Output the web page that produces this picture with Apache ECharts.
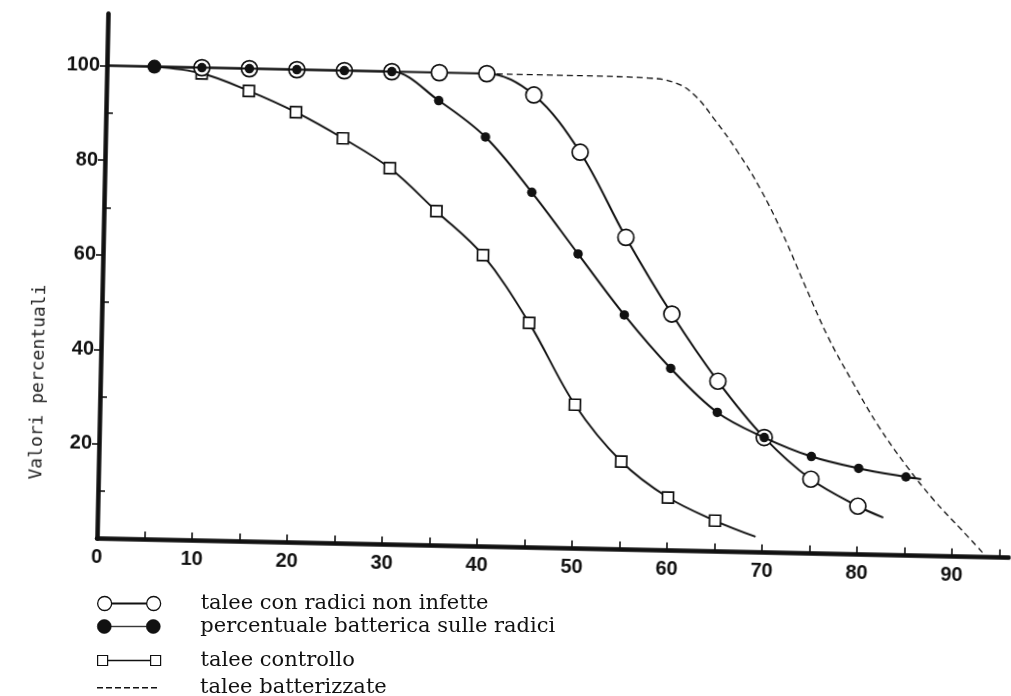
<!DOCTYPE html>
<html>
<head>
<meta charset="utf-8">
<script src="https://cdn.jsdelivr.net/npm/echarts@6/dist/echarts.min.js"></script>
<style>
  html, body { margin: 0; padding: 0; background: #fff; }
  #wrap { position: relative; width: 1011px; height: 696px; overflow: hidden; background: #fff; }
  #main { position: absolute; left: 0; top: 0; width: 1011px; height: 696px;
          transform: rotate(1.2deg); transform-origin: 97px 538.5px; }
  #legend { position: absolute; left: 0; top: 0; width: 1011px; height: 696px; pointer-events: none; }
</style>
</head>
<body>
<div id="wrap">
  <div id="main"></div>
  <div id="legend"></div>
</div>
<script>
// ---- data ----
const seriesNames = [
  'talee con radici non infette',
  'percentuale batterica sulle radici',
  'talee controllo',
  'talee batterizzate'
];
const openX   = [0, 10, 15, 20, 25, 30, 35, 40, 45, 50, 55, 60, 65, 70, 75, 80, 82.7];
const openY   = [100, 100, 100, 100, 100, 100, 100, 100, 95.7, 83.8, 66.0, 50.0, 36.0, 24.3, 15.7, 10.2, 7.9];
const filledX = [0, 5, 10, 15, 20, 25, 30, 35, 40, 45, 50, 55, 60, 65, 70, 75, 80, 85, 86.6];
const filledY = [100, 100, 100, 100, 100, 100, 100, 94.1, 86.6, 75.1, 62.3, 49.6, 38.5, 29.4, 24.3, 20.5, 18.2, 16.6, 16.2];
const squareX = [5, 10, 15, 20, 25, 30, 35, 40, 45, 50, 55, 60, 65, 69.3];
const squareY = [100, 98.8, 95.3, 91.0, 85.7, 79.6, 70.7, 61.6, 47.5, 30.4, 18.6, 11.2, 6.5, 3.3];
const dashedX = [40, 50, 57, 60, 62, 64, 66.5, 69, 71.5, 74, 76.5, 79, 82, 85, 88, 91, 93.3];
const dashedY = [100, 100, 99.8, 98.8, 96.2, 91.5, 84.8, 77, 67.4, 56.4, 45.8, 37, 27.2, 19, 11.8, 5.6, 0.8];
const xTicks = [0, 5, 10, 15, 20, 25, 30, 35, 40, 45, 50, 55, 60, 65, 70, 75, 80, 85, 90, 95];
const xLabels = [0, 10, 20, 30, 40, 50, 60, 70, 80, 90];
const yMajorTicks = [20, 40, 60, 80, 100];
const yMinorTicks = [10, 30, 50, 70, 90];
const yAxisTitle = 'Valori percentuali';

// ---- helpers ----
// first and last points of the marked curves are plain line ends (no marker)
function build(xs, ys, bigFirstMarker) {
  return xs.map((x, i) => {
    const item = { value: [x, ys[i]] };
    if (i === 0 || i === xs.length - 1) item.symbol = 'none';
    if (bigFirstMarker && i === 1) item.symbolSize = 14;
    return item;
  });
}
function pairs(xs, ys) { return xs.map((x, i) => [x, ys[i]]); }

const INK = '#111';
const labelFont = { fontFamily: '"Liberation Sans", Arial, sans-serif', fontWeight: 'bold', fontSize: 20, color: INK };

const main = echarts.init(document.getElementById('main'), null, { renderer: 'canvas' });
main.setOption({
  animation: false,
  grid: { left: 97, right: 2, top: 13.6, bottom: 157.5, containLabel: false },
  xAxis: {
    type: 'value', min: 0, max: 96, interval: 5,
    axisLine: { lineStyle: { color: INK, width: 4.5 } },
    axisTick: { inside: true, length: 8, customValues: xTicks, lineStyle: { color: INK, width: 1.6 } },
    axisLabel: Object.assign({ margin: 9, customValues: xLabels,
      formatter: v => (xLabels.indexOf(v) >= 0 ? String(v) : '') }, labelFont),
    splitLine: { show: false }
  },
  yAxis: [
    {
      type: 'value', min: 0, max: 111, interval: 20,
      axisLine: { show: true, lineStyle: { color: INK, width: 4.5 } },
      axisTick: { inside: false, length: 7, customValues: yMajorTicks, lineStyle: { color: INK, width: 1.6 } },
      axisLabel: Object.assign({ margin: 7, customValues: yMajorTicks,
        formatter: v => (yMajorTicks.indexOf(v) >= 0 ? String(v) : '') }, labelFont),
      splitLine: { show: false }
    },
    {
      type: 'value', min: 0, max: 111, interval: 10, position: 'left',
      axisLine: { show: false },
      axisTick: { show: true, inside: true, length: 7, customValues: yMinorTicks, lineStyle: { color: INK, width: 1.6 } },
      axisLabel: { show: false },
      splitLine: { show: false }
    }
  ],
  graphic: [{
    type: 'text', x: 35, y: 383.3, rotation: Math.PI / 2,
    style: {
      text: yAxisTitle, fill: '#222',
      font: '18px "DejaVu Sans Mono", monospace',
      fontSize: 18, fontFamily: '"DejaVu Sans Mono", monospace',
      align: 'center', verticalAlign: 'middle',
      textAlign: 'center', textVerticalAlign: 'middle'
    }
  }],
  series: [
    {
      name: seriesNames[3], type: 'line', data: pairs(dashedX, dashedY),
      smooth: 0.4, showSymbol: false, symbol: 'none', z: 2,
      lineStyle: { color: INK, width: 1.3, type: [6, 4] }
    },
    {
      name: seriesNames[2], type: 'line', data: build(squareX, squareY, false),
      smooth: 0.35, symbol: 'rect', symbolSize: 11, z: 3,
      lineStyle: { color: INK, width: 1.9 },
      itemStyle: { color: '#fff', borderColor: INK, borderWidth: 1.7 }
    },
    {
      name: seriesNames[0], type: 'line', data: build(openX, openY, false),
      smooth: 0.35, symbol: 'circle', symbolSize: 16, z: 4,
      lineStyle: { color: INK, width: 2 },
      itemStyle: { color: '#fff', borderColor: INK, borderWidth: 1.7 }
    },
    {
      name: seriesNames[1], type: 'line', data: build(filledX, filledY, true),
      smooth: 0.35, symbol: 'circle', symbolSize: 9.5, z: 5,
      lineStyle: { color: INK, width: 2 },
      itemStyle: { color: INK, borderWidth: 0 }
    }
  ]
});

// ---- legend (the scan's legend block is not skewed) ----
const circlePath = 'path://M0,7a7,7 0 1,0 14,0a7,7 0 1,0 -14,0Z M14,6.7H49V7.3H14Z M49,7a7,7 0 1,0 14,0a7,7 0 1,0 -14,0Z';
const squarePath = 'path://M0,0H10V10H0Z M10,4.8H53V5.2H10Z M53,0H63V10H53Z';
const dashPath = 'path://M0,0H6V1.4H0Z M9,0H15V1.4H9Z M18,0H24V1.4H18Z M27,0H33V1.4H27Z M36,0H42V1.4H36Z M45,0H51V1.4H45Z M54,0H60V1.4H54Z';
const legendRows = [600, 623, 655, 678];
const legendText = { fontFamily: '"DejaVu Serif", "Liberation Serif", serif', fontSize: 21, color: '#111' };

function legendItem(i, icon, w, h, style) {
  return {
    left: 97, top: legendRows[i] - h / 2, padding: 0, itemGap: 0,
    itemWidth: w, itemHeight: h, selectedMode: false, orient: 'vertical',
    textStyle: Object.assign({ padding: [0, 0, 0, 200 - 97 - w - 5] }, legendText),
    data: [{ name: seriesNames[i], icon: icon, itemStyle: style }]
  };
}

const leg = echarts.init(document.getElementById('legend'), null, { renderer: 'canvas' });
leg.setOption({
  animation: false,
  grid: { left: 0, top: 0, width: 10, height: 10, show: false },
  xAxis: { type: 'value', show: false },
  yAxis: { type: 'value', show: false },
  legend: [
    legendItem(0, circlePath, 63, 14, { color: '#fff', borderColor: '#111', borderWidth: 1.3 }),
    legendItem(1, circlePath, 63, 14, { color: '#111', borderColor: '#111', borderWidth: 0.6 }),
    legendItem(2, squarePath, 63, 10, { color: '#fff', borderColor: '#111', borderWidth: 1.2 }),
    legendItem(3, dashPath, 60, 1.4, { color: '#111', borderWidth: 0 })
  ],
  series: seriesNames.map(n => ({ name: n, type: 'line', data: [], symbol: 'none' }))
});
</script>
</body>
</html>
